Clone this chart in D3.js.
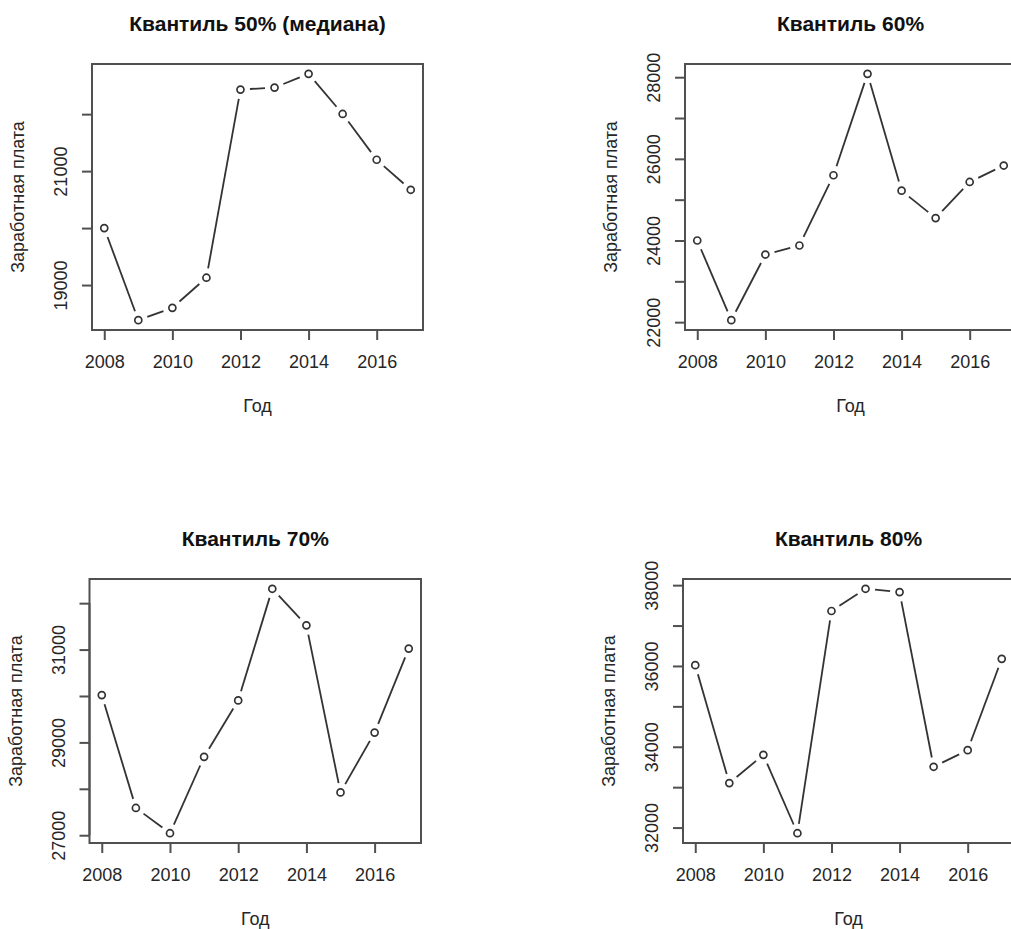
<!DOCTYPE html>
<html>
<head>
<meta charset="utf-8">
<script src="https://cdn.jsdelivr.net/npm/d3@7"></script>
<style>
  html, body { margin: 0; padding: 0; background: #fff; }
  svg { display: block; }
  text { font-family: "Liberation Sans", Arial, sans-serif; }
</style>
</head>
<body>
<svg id="chart" width="1011" height="929"></svg>
<script>
// Years on the x axis
const years = [2008, 2009, 2010, 2011, 2012, 2013, 2014, 2015, 2016, 2017];
const xTickValues = [2008, 2010, 2012, 2014, 2016];

// Wage quantiles by year
const q50 = [20000, 18384, 18600, 19129, 22431, 22466, 22707, 22003, 21199, 20672];
const q60 = [24000, 22049, 23656, 23877, 25598, 28082, 25221, 24549, 25434, 25836];
const q70 = [30020, 27587, 27043, 28689, 29905, 32310, 31522, 27923, 29211, 31021];
const q80 = [36020, 33101, 33800, 31860, 37360, 37910, 37828, 33504, 33915, 36176];

// Panel titles
const titles = ["Квантиль 50% (медиана)", "Квантиль 60%", "Квантиль 70%", "Квантиль 80%"];

// Y ticks (every 1000) and which of them carry a label
const yTicks50 = [19000, 20000, 21000, 22000];
const yLabels50 = [19000, 21000];
const yTicks60 = [22000, 23000, 24000, 25000, 26000, 27000, 28000];
const yLabels60 = [22000, 24000, 26000, 28000];
const yTicks70 = [27000, 28000, 29000, 30000, 31000, 32000];
const yLabels70 = [27000, 29000, 31000];
const yTicks80 = [32000, 33000, 34000, 35000, 36000, 37000, 38000];
const yLabels80 = [32000, 34000, 36000, 38000];

const xLabel = "Год";
const yLabel = "Заработная плата";

// Plot boxes for the 2x2 grid
const panels = [
  { values: q50, title: titles[0], ticks: yTicks50, labels: yLabels50, box: { left: 92, right: 423, top: 64, bottom: 330 } },
  { values: q60, title: titles[1], ticks: yTicks60, labels: yLabels60, box: { left: 685, right: 1016, top: 64, bottom: 330 } },
  { values: q70, title: titles[2], ticks: yTicks70, labels: yLabels70, box: { left: 89.5, right: 421, top: 579, bottom: 843 } },
  { values: q80, title: titles[3], ticks: yTicks80, labels: yLabels80, box: { left: 683, right: 1014, top: 579, bottom: 843 } }
];

const svg = d3.select("#chart");
svg.append("rect").attr("width", 1011).attr("height", 929).attr("fill", "#fff");

const lineColor = "#333";
const boxColor = "#505050";
const textColor = "#262626";
const tickFont = 18;
const labelFont = 18;
const titleFont = 21;

// Extend a range by 4% on each side
function padded(ext) {
  const d = (ext[1] - ext[0]) * 0.04;
  return [ext[0] - d, ext[1] + d];
}

panels.forEach(p => {
  const b = p.box;
  const g = svg.append("g");

  const x = d3.scaleLinear().domain(padded(d3.extent(years))).range([b.left, b.right]);
  const y = d3.scaleLinear().domain(padded(d3.extent(p.values))).range([b.bottom, b.top]);

  // Frame
  g.append("rect")
    .attr("x", b.left).attr("y", b.top)
    .attr("width", b.right - b.left).attr("height", b.bottom - b.top)
    .attr("fill", "none").attr("stroke", boxColor).attr("stroke-width", 2);

  // X axis
  const xAxis = d3.axisBottom(x).tickValues(xTickValues).tickFormat(d3.format("d"))
    .tickSize(10).tickSizeOuter(0);
  const gx = g.append("g").attr("transform", `translate(0,${b.bottom})`).call(xAxis);
  gx.select(".domain").attr("stroke", boxColor).attr("stroke-width", 2)
    .attr("d", `M${x(xTickValues[0])},0H${x(xTickValues[xTickValues.length - 1])}`);
  gx.selectAll(".tick line").attr("stroke", boxColor).attr("stroke-width", 2);
  gx.selectAll(".tick text").attr("y", 32).attr("dy", null)
    .attr("dominant-baseline", "central")
    .attr("font-size", tickFont).attr("fill", textColor).attr("font-family", "Liberation Sans, Arial, sans-serif");

  // Y axis
  const yAxis = d3.axisLeft(y).tickValues(p.ticks)
    .tickFormat(d => p.labels.includes(d) ? d3.format("d")(d) : "")
    .tickSize(10).tickSizeOuter(0);
  const gy = g.append("g").attr("transform", `translate(${b.left},0)`).call(yAxis);
  gy.select(".domain").attr("stroke", boxColor).attr("stroke-width", 2)
    .attr("d", `M0,${y(p.ticks[0])}V${y(p.ticks[p.ticks.length - 1])}`);
  gy.selectAll(".tick line").attr("stroke", boxColor).attr("stroke-width", 2);
  gy.selectAll(".tick text")
    .attr("x", null).attr("dy", null)
    .attr("transform", "translate(-31,0) rotate(-90)")
    .attr("text-anchor", "middle").attr("dominant-baseline", "central")
    .attr("font-size", tickFont).attr("fill", textColor).attr("font-family", "Liberation Sans, Arial, sans-serif");

  // Title
  g.append("text")
    .attr("x", (b.left + b.right) / 2).attr("y", b.top - 41)
    .attr("text-anchor", "middle").attr("dominant-baseline", "central")
    .attr("font-size", titleFont).attr("font-weight", "bold").attr("fill", "#111")
    .text(p.title);

  // Axis titles
  g.append("text")
    .attr("x", (b.left + b.right) / 2).attr("y", b.bottom + 76)
    .attr("text-anchor", "middle").attr("dominant-baseline", "central")
    .attr("font-size", labelFont).attr("fill", textColor)
    .text(xLabel);
  g.append("text")
    .attr("transform", `translate(${b.left - 74},${(b.top + b.bottom) / 2}) rotate(-90)`)
    .attr("text-anchor", "middle").attr("dominant-baseline", "central")
    .attr("font-size", labelFont).attr("fill", textColor)
    .text(yLabel);

  // Line segments with gaps around each point
  const gap = 9.5;
  const pts = years.map((yr, i) => [x(yr), y(p.values[i])]);
  const segs = d3.pairs(pts).map(([a, c]) => {
    const dx = c[0] - a[0], dy = c[1] - a[1];
    const len = Math.hypot(dx, dy);
    if (len <= 2 * gap) return null;
    const ux = dx / len, uy = dy / len;
    return [[a[0] + ux * gap, a[1] + uy * gap], [c[0] - ux * gap, c[1] - uy * gap]];
  }).filter(Boolean);
  g.selectAll(".seg").data(segs).join("line")
    .attr("x1", d => d[0][0]).attr("y1", d => d[0][1])
    .attr("x2", d => d[1][0]).attr("y2", d => d[1][1])
    .attr("stroke", lineColor).attr("stroke-width", 1.8);

  // Open circle markers
  g.selectAll(".pt").data(p.values).join("circle")
    .attr("cx", (d, i) => x(years[i])).attr("cy", d => y(d))
    .attr("r", 3.5).attr("fill", "none")
    .attr("stroke", lineColor).attr("stroke-width", 1.7);
});
</script>
</body>
</html>
